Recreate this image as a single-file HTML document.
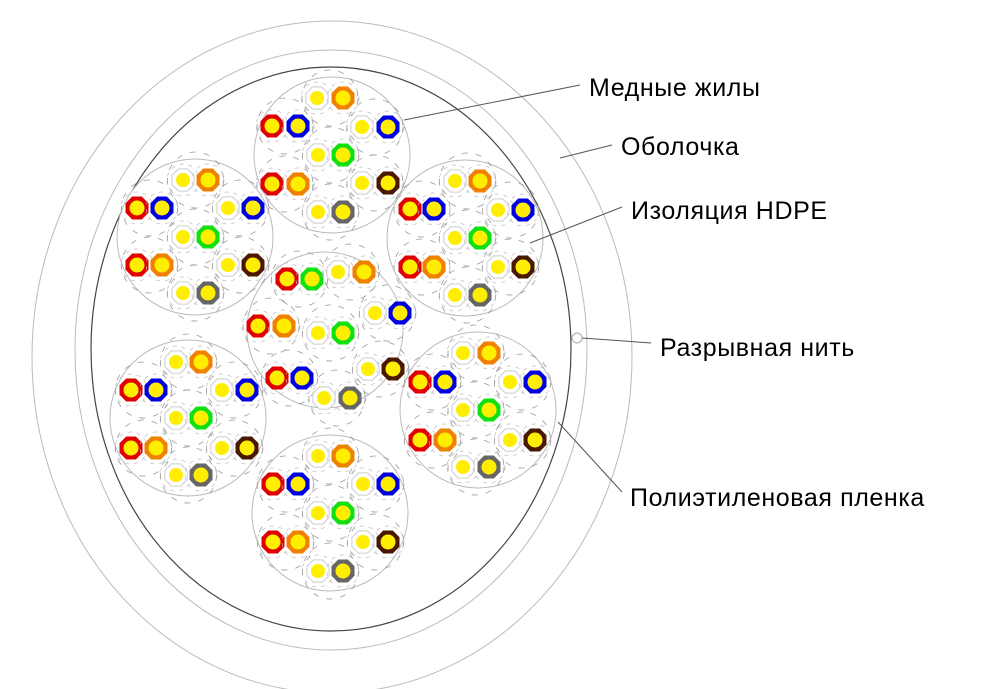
<!DOCTYPE html>
<html><head><meta charset="utf-8"><style>
body{margin:0;background:#fff;width:1000px;height:689px;overflow:hidden}
svg{display:block}
text{font-family:"Liberation Sans",sans-serif;font-size:25px;fill:#000;letter-spacing:0.6px}
</style></head><body>
<svg id="s" width="1000" height="689" viewBox="0 0 1000 689">
<ellipse cx="332" cy="357" rx="300" ry="336" fill="none" stroke="#bbb" stroke-width="1"/>
<ellipse cx="331" cy="350" rx="256" ry="300" fill="none" stroke="#bbb" stroke-width="1"/>
<ellipse cx="331" cy="349" rx="240" ry="282" fill="none" stroke="#444" stroke-width="1.2"/>
<circle cx="577" cy="338" r="5" fill="#fff" stroke="#aaa"/>
<g id="g"></g>
<g stroke="#555" stroke-width="1">
<line x1="404" y1="120" x2="580" y2="85"/>
<line x1="560" y1="158" x2="612" y2="145"/>
<line x1="530" y1="243" x2="622" y2="207"/>
<line x1="582" y1="338" x2="651" y2="343"/>
<line x1="558" y1="422" x2="622" y2="492"/>
</g>
<text x="589" y="96">Медные жилы</text>
<text x="621" y="155">Оболочка</text>
<text x="631" y="219">Изоляция HDPE</text>
<text x="660" y="356">Разрывная нить</text>
<text x="630" y="506">Полиэтиленовая пленка</text>
</svg>
<script>
const C={r:"#e00000",b:"#0000e0",o:"#f08000",g:"#10e010",n:"#4a1800",y:"#666",w:"#fff"};
const B=[
[332,155,[[272,126,"r"],[298,126,"b"],[317,98,"w"],[343,98,"o"],[362,127,"w"],[388,127,"b"],[318,155,"w"],[343,155,"g"],[272,184,"r"],[298,184,"o"],[362,183,"w"],[388,183,"n"],[318,212,"w"],[343,212,"y"]]],
[195,237,[[137,208,"r"],[162,208,"b"],[183,180,"w"],[208,180,"o"],[228,208,"w"],[253,208,"b"],[183,237,"w"],[208,237,"g"],[137,265,"r"],[162,265,"o"],[228,265,"w"],[253,265,"n"],[183,293,"w"],[208,293,"y"]]],
[465,238,[[410,209,"r"],[434,209,"b"],[455,181,"w"],[480,181,"o"],[498,210,"w"],[523,210,"b"],[455,238,"w"],[480,238,"g"],[410,267,"r"],[434,267,"o"],[498,267,"w"],[523,267,"n"],[455,295,"w"],[480,295,"y"]]],
[325,330,[[287,279,"r"],[312,279,"g"],[338,272,"w"],[364,272,"o"],[375,313,"w"],[400,313,"b"],[258,326,"r"],[284,326,"o"],[318,333,"w"],[343,333,"g"],[277,378,"r"],[302,378,"b"],[368,369,"w"],[393,369,"n"],[324,398,"w"],[350,398,"y"]]],
[188,418,[[131,390,"r"],[156,390,"b"],[176,362,"w"],[201,362,"o"],[222,390,"w"],[247,390,"b"],[176,418,"w"],[201,418,"g"],[131,448,"r"],[156,448,"o"],[222,448,"w"],[247,448,"n"],[176,475,"w"],[201,475,"y"]]],
[330,513,[[273,484,"r"],[298,484,"b"],[318,456,"w"],[343,456,"o"],[363,484,"w"],[388,484,"b"],[318,513,"w"],[343,513,"g"],[273,542,"r"],[298,542,"o"],[363,542,"w"],[388,542,"n"],[318,571,"w"],[343,571,"y"]]],
[478,410,[[420,382,"r"],[445,382,"b"],[463,353,"w"],[489,353,"o"],[510,382,"w"],[535,382,"b"],[463,410,"w"],[489,410,"g"],[420,440,"r"],[445,440,"o"],[510,440,"w"],[535,440,"n"],[463,467,"w"],[489,467,"y"]]]];
let h="";
function oct(x,y,r){let p=[];for(let i=0;i<8;i++){let a=Math.PI/8+i*Math.PI/4;p.push((x+r*Math.cos(a)).toFixed(1)+","+(y+r*Math.sin(a)).toFixed(1));}return p.join(" ");}
for(const [cx,cy,L] of B){
 h+=`<circle cx="${cx}" cy="${cy}" r="78" fill="#fff" stroke="#bbb"/>`;
 for(let i=0;i<L.length;i+=2){const a=L[i],b=L[i+1];const mx=(a[0]+b[0])/2,my=(a[1]+b[1])/2;
  h+=`<circle cx="${mx}" cy="${my}" r="28" fill="none" stroke="#999" stroke-dasharray="6 8" stroke-width="0.8"/>`;}
 for(const [x,y,c] of L){
  h+=`<circle cx="${x}" cy="${y}" r="16" fill="none" stroke="#bbb" stroke-dasharray="4 5" stroke-width="0.7"/>`;
  if(c=="w"){h+=`<polygon points="${oct(x,y,12)}" fill="#fff" stroke="#ccc"/><circle cx="${x}" cy="${y}" r="7" fill="#ffee00"/>`;}
  else{h+=`<polygon points="${oct(x,y,12.5)}" fill="${C[c]}"/><circle cx="${x}" cy="${y}" r="7.5" fill="#ffee00"/>`;}
 }
}
document.getElementById("g").innerHTML=h;
</script>
</body></html>
